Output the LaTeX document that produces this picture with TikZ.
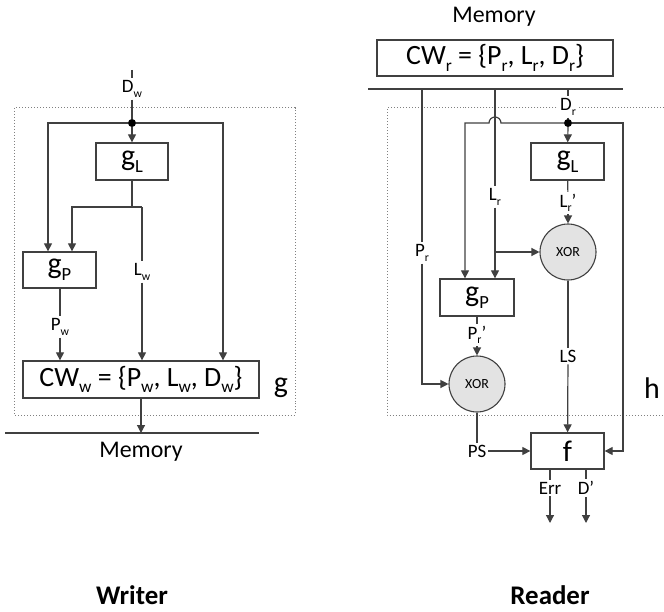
\documentclass[tikz,border=0pt]{standalone}
\usepackage{fontspec}
\setmainfont{Carlito}
\usetikzlibrary{arrows.meta, positioning}
\newcommand{\subtxt}[1]{\raisebox{-0.24em}{\scalebox{0.62}{#1}}}
\definecolor{linegray}{HTML}{404040}
\definecolor{xorfill}{HTML}{E3E3E3}

\begin{document}
\begin{tikzpicture}[x=1bp, y=-1bp,
      box/.style={draw=linegray, line width=1.3bp, fill=white, inner sep=0pt, font=\fontsize{30}{32}\selectfont},
      cwbox/.style={box, minimum width=236bp, font=\fontsize{28}{30}\selectfont},
      xorc/.style={circle, draw=linegray, line width=1.1bp, fill=xorfill, minimum size=56bp, inner sep=0pt, font=\fontsize{14}{16}\selectfont},
      lbl/.style={fill=white, inner sep=2bp, font=\fontsize{19}{21}\selectfont},
      dot/.style={circle, fill=black, minimum size=8bp, inner sep=0pt},
      big/.style={font=\fontsize{24}{28}\selectfont},
      title/.style={font=\fontsize{27}{30}\selectfont\bfseries},
      dotbox/.style={draw=gray, line width=1bp, dotted},
      line/.style={draw=linegray, line width=1.2bp},
      arr/.style={line, -{Triangle[length=8bp, width=8bp]}}
    ]
      \useasboundingbox (0,0) rectangle (664,612);

      % writer
      \draw[dotbox] (14,108) rectangle (295,415);
      \node[big] (gw) at (281,388) {\fontsize{30}{32}\selectfont g};
      \coordinate (dwtop) at (132,70);
      \node[lbl] (dw) at (132,89) {D\subtxt{w}};
      \node[dot] (wdot) at (132,123) {};
      \node[box, minimum width=72bp, minimum height=37bp] (gl) at (132,161.5) {g\subtxt{L}};
      \node[box, minimum width=73bp, minimum height=36bp] (gp) at (59.5,270) {g\subtxt{P}};
      \node[cwbox, minimum height=37bp] (cw) at (141,379.5) {CW\subtxt{w} = \{P\subtxt{w}, L\subtxt{w}, D\subtxt{w}\}};
      \node[lbl] (lw) at (142,272) {L\subtxt{w}};
      \node[lbl] (pw) at (60,327) {P\subtxt{w}};
      \coordinate (wl) at (48,123);
      \coordinate (wr) at (223,123);
      \coordinate (lsplit) at (142,207);
      \coordinate (pin) at (72,207);
      \coordinate (wmem) at (141,433);
      \coordinate (wm1) at (5,433);
      \coordinate (wm2) at (259,433);
      \draw[line] (dwtop) -- (dw);
      \draw[line] (dw) -- (wdot);
      \draw[arr] (wdot) -- (gl);
      \draw[arr] (wdot) -- (wl) -- (wl |- gp.north);
      \draw[arr] (wdot) -- (wr) -- (wr |- cw.north);
      \draw[line] (gl.south) -- (gl.south |- lsplit);
      \draw[arr] (lsplit) -- (pin) -- (pin |- gp.north);
      \draw[line] (lsplit) -- (lw);
      \draw[arr] (lw) -- (lw |- cw.north);
      \draw[line] (gp.south -| pw) -- (pw);
      \draw[arr] (pw) -- (pw |- cw.north);
      \draw[arr] (cw.south -| wmem) -- (wmem);
      \draw[line] (wm1) -- (wm2);
      \node[big] (wmemlbl) at (141,452) {Memory};
      \node[title] (writer) at (132,595) {Writer};

      % reader
      \draw[dotbox] (664,108) -- (387,108) -- (387,415) -- (664,415);
      \node[big] (hr) at (652,388) {\fontsize{30}{32}\selectfont h};
      \node[big] (rmemlbl) at (494,17) {Memory};
      \node[cwbox, minimum height=36bp] (cwr) at (495,58) {CW\subtxt{r} = \{P\subtxt{r}, L\subtxt{r}, D\subtxt{r}\}};
      \coordinate (rm1) at (368,89);
      \coordinate (rm2) at (623,89);
      \coordinate (pr0) at (422,89);
      \coordinate (lr0) at (495,89);
      \coordinate (dr0) at (568,89);
      \draw[line] (rm1) -- (rm2);
      \node[lbl] (dr) at (568,107) {D\subtxt{r}};
      \node[dot] (rdot) at (568,123) {};
      \node[box, minimum width=73bp, minimum height=37bp] (glr) at (567.5,161.5) {g\subtxt{L}};
      \node[lbl] (lrp) at (568,203) {L\subtxt{r}'};
      \node[xorc] (xor1) at (568,252) {XOR};
      \node[lbl] (lr) at (495,197) {L\subtxt{r}};
      \node[box, minimum width=74bp, minimum height=37bp] (gpr) at (477,297.5) {g\subtxt{P}};
      \node[lbl] (prp) at (477,335) {P\subtxt{r}'};
      \node[xorc] (xor2) at (477,384) {XOR};
      \node[lbl] (pr) at (422,253) {P\subtxt{r}};
      \node[lbl] (ls) at (568,356) {LS};
      \node[box, minimum width=73bp, minimum height=36bp] (f) at (567.5,451) {f};
      \node[lbl] (ps) at (477,451) {PS};
      \node[lbl] (err) at (550,488) {Err};
      \node[lbl] (dout) at (586,488) {D'};
      \coordinate (rl) at (465,123);
      \coordinate (rr) at (623,123);
      \coordinate (lrb) at (495,252);
      \coordinate (errout) at (550,523);
      \coordinate (doutend) at (586,523);
      \draw[line] (dr0) -- (dr);
      \draw[line] (dr) -- (rdot);
      \draw[arr] (rdot) -- (glr);
      \draw[arr] (rdot) -- (501,123) arc[start angle=0, end angle=180, radius=6bp] -- (rl) -- (rl |- gpr.north);
      \draw[arr] (rdot) -- (rr) |- (f.east);
      \draw[line] (glr) -- (lrp);
      \draw[arr] (lrp) -- (xor1);
      \draw[line] (lr0) -- (lr);
      \draw[arr] (lr) -- (lr |- gpr.north);
      \draw[arr] (lrb) -- (xor1);
      \draw[line] (gpr) -- (prp);
      \draw[arr] (prp) -- (xor2);
      \draw[line] (pr0) -- (pr);
      \draw[arr] (pr) |- (xor2);
      \draw[line] (xor1) -- (ls);
      \draw[arr] (ls) -- (f);
      \draw[line] (xor2) -- (ps);
      \draw[arr] (ps) -- (f);
      \draw[line] (f.south -| err) -- (err);
      \draw[arr] (err) -- (errout);
      \draw[line] (f.south -| dout) -- (dout);
      \draw[arr] (dout) -- (doutend);
      \node[title] (reader) at (550,595) {Reader};
    \end{tikzpicture}
\end{document}
